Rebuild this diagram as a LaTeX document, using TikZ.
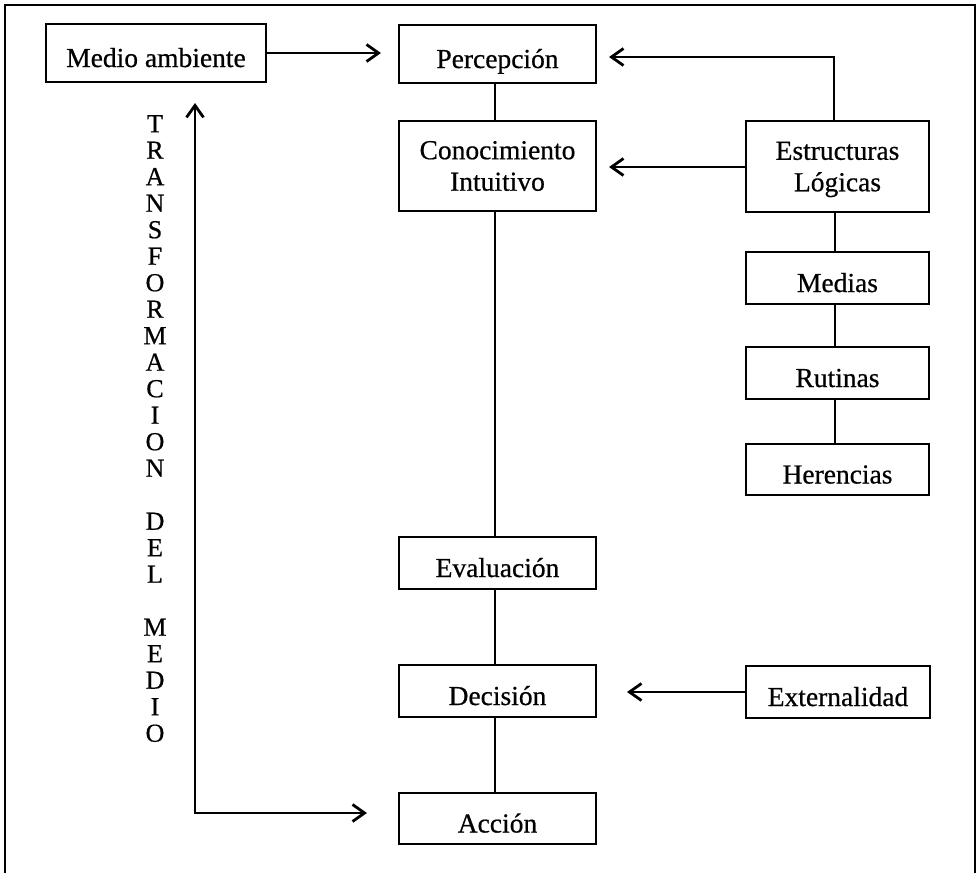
\documentclass[tikz,border=0pt]{standalone}
\usepackage{fontspec}
\setmainfont[FakeBold=0.6]{Liberation Serif}
\usetikzlibrary{arrows.meta}
\begin{document}
\begin{tikzpicture}[x=1pt,y=-1pt,
  box/.style={draw=black, line width=2.1pt, inner sep=0pt, align=center,
    font=\fontsize{27.5}{31.5}\selectfont},
  sbox/.style={box, text height=28pt, text depth=0pt},
  conn/.style={line width=2.1pt},
  arr/.style={line width=2.1pt, -{Straight Barb[length=12pt,width=17pt,line width=2.8pt]}},
  vtext/.style={inner sep=0pt, align=center, font=\fontsize{26}{26.5}\selectfont}
]
\useasboundingbox (0,0) rectangle (978,873);
\fill[white] (0,0) rectangle (978,873);
% frame
\draw[line width=2.1pt] (5,873) -- (5,5) -- (975,5) -- (975,873);

% boxes
\node[sbox, minimum width=220pt, minimum height=58pt] (medio) at (156,53) {Medio ambiente};
\node[sbox, minimum width=197pt, minimum height=58pt] (perc) at (497.5,54) {Percepción};
\node[box, minimum width=197pt, minimum height=90pt] (conoc) at (497.5,166) {Conocimiento\\Intuitivo};
\node[box, minimum width=183pt, minimum height=91pt, text depth=-4pt] (estr) at (837.5,166.5) {Estructuras\\Lógicas};
\node[sbox, minimum width=183pt, minimum height=52pt] (medias) at (837.5,278) {Medias};
\node[sbox, minimum width=183pt, minimum height=52pt] (rutinas) at (837.5,373) {Rutinas};
\node[sbox, minimum width=183pt, minimum height=51pt] (herencias) at (837.5,469.5) {Herencias};
\node[sbox, minimum width=197pt, minimum height=52pt] (eval) at (497.5,563) {Evaluación};
\node[sbox, minimum width=197pt, minimum height=52pt] (dec) at (497.5,691) {Decisión};
\node[sbox, minimum width=197pt, minimum height=51pt] (acc) at (497.5,818.5) {Acción};
\node[sbox, minimum width=184pt, minimum height=52pt] (ext) at (838,692) {Externalidad};

% vertical text
\node[vtext, anchor=north] (trans) at (155,115)
  {T\\R\\A\\N\\S\\F\\O\\R\\M\\A\\C\\I\\O\\N\\[26.5pt]D\\E\\L\\[26.5pt]M\\E\\D\\I\\O};

% plain connectors
\draw[conn] (perc.south -| 495,0) -- (conoc.north -| 495,0);
\draw[conn] (conoc.south -| 495,0) -- (eval.north -| 495,0);
\draw[conn] (eval.south -| 495,0) -- (dec.north -| 495,0);
\draw[conn] (dec.south -| 495,0) -- (acc.north -| 495,0);
\draw[conn] (estr.south -| 835,0) -- (medias.north -| 835,0);
\draw[conn] (medias.south -| 835,0) -- (rutinas.north -| 835,0);
\draw[conn] (rutinas.south -| 835,0) -- (herencias.north -| 835,0);

% arrows
\coordinate (mpy) at (0,53);
\draw[arr, shorten >=17pt] (medio.east |- mpy) -- (perc.west |- mpy);
\coordinate (epy) at (834,57);
\draw[arr, shorten >=12pt] (estr.north -| epy) -- (epy) -- (perc.east |- epy);
\coordinate (ecy) at (0,167);
\draw[arr, shorten >=12pt] (estr.west |- ecy) -- (conoc.east |- ecy);
\draw[arr, shorten >=30pt] (ext.west) -- (ext.west -| dec.east);
\coordinate (lt) at (195,103);
\coordinate (lb) at (195,813);
\draw[line width=2.1pt, {Straight Barb[length=12pt,width=17pt,line width=2.8pt]}-{Straight Barb[length=12pt,width=17pt,line width=2.8pt]}, shorten >=31pt]
  (lt) -- (lb) -- (acc.west |- lb);
\end{tikzpicture}
\end{document}
